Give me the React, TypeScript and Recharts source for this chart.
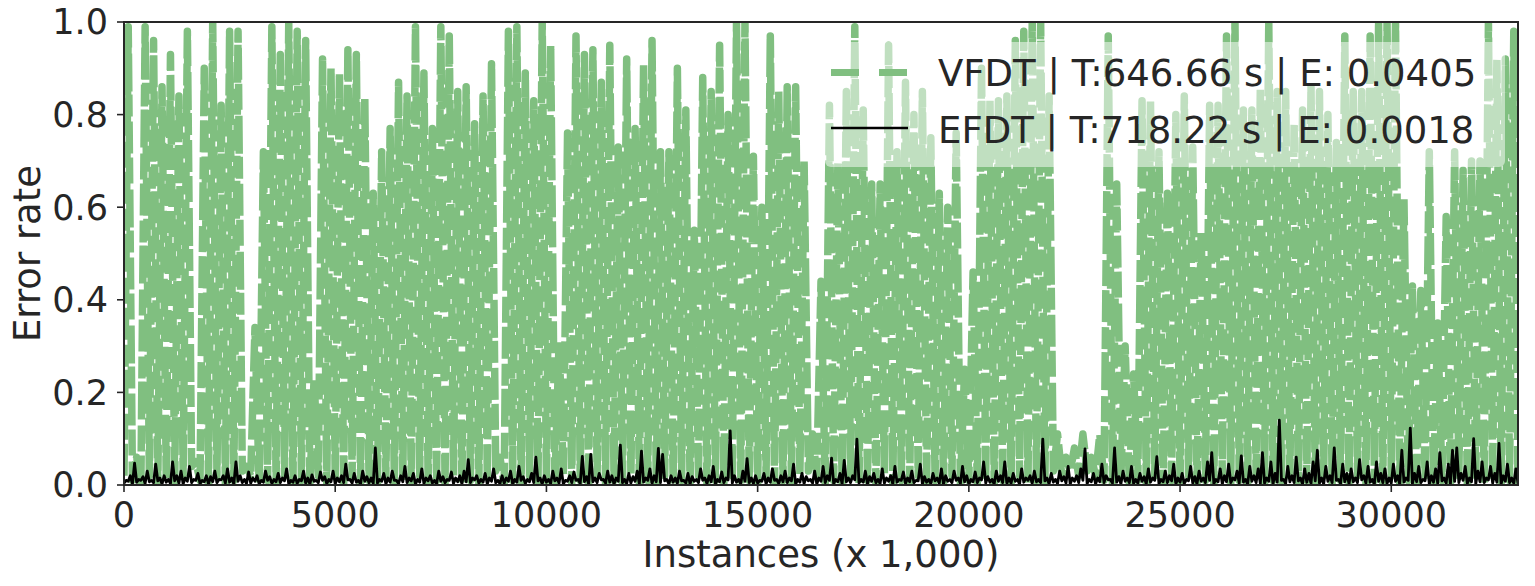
import { LineChart, Line, XAxis, YAxis } from "recharts"

// VFDT sampled every 100 (x 1,000) instances, EFDT every 50
const vfdtStep = 100
const efdtStep = 50
const xTicks = [0, 5000, 10000, 15000, 20000, 25000, 30000]
const yTicks = [0, 0.2, 0.4, 0.6, 0.8, 1.0]

const vfdt = [
  0.02, 0.99, 0.01, 0.06, 0, 0.99, 0.02, 0.96, 0, 0.86,
  0.01, 0.93, 0, 0.84, 0.02, 0.98, 0.04, 0.05, 0.01, 0.9,
  0, 1, 0.02, 0.82, 0, 0.98, 0.01, 0.98, 0.03, 0.04,
  0.02, 0.34, 0, 0.72, 0.01, 0.99, 0, 0.93, 0.02, 1,
  0, 0.98, 0.01, 0.96, 0, 0.23, 0.02, 0.92, 0, 0.9,
  0.01, 0.89, 0, 0.94, 0.02, 0.93, 0, 0.84, 0.01, 0.63,
  0, 0.72, 0.02, 0.77, 0, 0.87, 0.01, 0.84, 0, 0.99,
  0.02, 0.89, 0, 0.77, 0.01, 0.99, 0, 0.97, 0.02, 0.85,
  0, 0.86, 0.01, 0.78, 0, 0.84, 0.02, 0.91, 0.03, 0.06,
  0, 0.98, 0.01, 0.99, 0, 0.89, 0.02, 0.83, 0, 1,
  0.01, 0.95, 0, 0.31, 0.02, 0.76, 0, 0.97, 0.01, 0.93,
  0, 0.94, 0.02, 0.87, 0, 0.95, 0.01, 0.73, 0, 0.92,
  0.02, 0.77, 0, 0.91, 0.01, 0.96, 0, 0.72, 0.02, 0.72,
  0, 0.9, 0.01, 0.81, 0, 0.55, 0.02, 0.88, 0, 0.85,
  0.01, 0.95, 0, 0.8, 0.02, 1, 0, 1, 0.01, 0.71,
  0, 0.6, 0.02, 0.97, 0, 0.85, 0.01, 0.86, 0, 0.86,
  0.02, 0.7, 0.03, 0.11, 0.02, 0.44, 0, 0.82, 0.01, 0.7,
  0, 0.85, 0.02, 0.99, 0, 0.81, 0.01, 0.65, 0, 0.65,
  0.02, 0.95, 0, 0.72, 0.01, 0.87, 0, 0.8, 0.02, 0.85,
  0, 0.75, 0.01, 0.63, 0, 0.6, 0.02, 0.76, 0, 0.25,
  0.01, 0.46, 0, 0.9, 0.02, 0.83, 0, 0.83, 0.01, 0.84,
  0, 0.96, 0.02, 0.98, 0, 1, 0.01, 1, 0, 0.84,
  0.03, 0.11, 0.02, 0.06, 0.03, 0.08, 0.02, 0.11, 0.03, 0.06,
  0.02, 0.11, 0.01, 0.97, 0, 0.65, 0.02, 0.3, 0, 0.24,
  0.01, 0.83, 0, 0.83, 0.02, 0.72, 0, 0.63, 0.01, 0.8,
  0, 0.84, 0.02, 0.73, 0, 0.55, 0.01, 0.82, 0, 0.82,
  0.02, 0.97, 0, 1, 0.01, 0.81, 0, 0.81, 0.02, 0.86,
  0, 1, 0.01, 0.85, 0, 0.85, 0.02, 0.78, 0, 0.81,
  0.01, 0.86, 0, 0.85, 0.02, 0.8, 0, 0.74, 0.01, 0.97,
  0, 0.85, 0.02, 0.85, 0, 0.97, 0.01, 1, 0, 1,
  0.02, 1, 0, 0.62, 0.01, 0.43, 0, 0.42, 0.02, 0.72,
  0, 0.35, 0.01, 0.58, 0, 0.72, 0.02, 0.68, 0, 0.7,
  0.01, 0.7, 0, 1, 0.02, 0.92, 0, 0.92, 0.01, 0.98,
  0,
]

const efdt = [
  0.004, 0.01, 0.008, 0.02, 0.002, 0.047, 0.006, 0.012, 0.01, 0.018,
  0.003, 0.03, 0.007, 0.01, 0.005, 0.045, 0.009, 0.015, 0.002, 0.02,
  0.006, 0.012, 0.003, 0.05, 0.009, 0.02, 0.004, 0.03, 0.002, 0.015,
  0.008, 0.04, 0.005, 0.012, 0.01, 0.025, 0.003, 0.01, 0.007, 0.02,
  0.002, 0.018, 0.007, 0.03, 0.005, 0.012, 0.011, 0.02, 0.004, 0.035,
  0.006, 0.015, 0.002, 0.05, 0.008, 0.02, 0.005, 0.012, 0.003, 0.028,
  0.004, 0.015, 0.008, 0.02, 0.002, 0.01, 0.006, 0.03, 0.01, 0.018,
  0.003, 0.012, 0.007, 0.025, 0.005, 0.015, 0.009, 0.035, 0.002, 0.01,
  0.006, 0.02, 0.003, 0.012, 0.009, 0.03, 0.004, 0.015, 0.002, 0.022,
  0.008, 0.01, 0.005, 0.028, 0.01, 0.018, 0.003, 0.012, 0.007, 0.03,
  0.002, 0.015, 0.007, 0.02, 0.005, 0.045, 0.011, 0.012, 0.004, 0.025,
  0.006, 0.01, 0.002, 0.03, 0.008, 0.018, 0.005, 0.015, 0.003, 0.08,
  0.004, 0.012, 0.008, 0.025, 0.002, 0.015, 0.006, 0.03, 0.01, 0.01,
  0.003, 0.02, 0.007, 0.04, 0.005, 0.015, 0.009, 0.025, 0.002, 0.012,
  0.006, 0.035, 0.003, 0.015, 0.009, 0.02, 0.004, 0.01, 0.002, 0.03,
  0.008, 0.018, 0.005, 0.012, 0.01, 0.028, 0.003, 0.015, 0.007, 0.02,
  0.002, 0.03, 0.007, 0.055, 0.005, 0.015, 0.011, 0.02, 0.004, 0.012,
  0.006, 0.025, 0.002, 0.015, 0.008, 0.035, 0.005, 0.01, 0.003, 0.02,
  0.004, 0.015, 0.008, 0.03, 0.002, 0.012, 0.006, 0.04, 0.01, 0.018,
  0.003, 0.012, 0.007, 0.025, 0.005, 0.06, 0.009, 0.015, 0.002, 0.02,
  0.006, 0.012, 0.003, 0.03, 0.009, 0.015, 0.004, 0.035, 0.002, 0.01,
  0.008, 0.02, 0.005, 0.028, 0.01, 0.012, 0.003, 0.062, 0.007, 0.018,
  0.002, 0.066, 0.007, 0.015, 0.005, 0.025, 0.011, 0.012, 0.004, 0.03,
  0.006, 0.02, 0.002, 0.015, 0.008, 0.086, 0.005, 0.012, 0.003, 0.025,
  0.004, 0.018, 0.008, 0.03, 0.002, 0.073, 0.006, 0.015, 0.01, 0.035,
  0.003, 0.02, 0.007, 0.079, 0.005, 0.066, 0.009, 0.012, 0.002, 0.02,
  0.006, 0.015, 0.003, 0.03, 0.009, 0.01, 0.004, 0.025, 0.002, 0.018,
  0.008, 0.012, 0.005, 0.035, 0.01, 0.015, 0.003, 0.02, 0.007, 0.04,
  0.002, 0.012, 0.007, 0.028, 0.005, 0.015, 0.011, 0.117, 0.004, 0.02,
  0.006, 0.012, 0.002, 0.03, 0.008, 0.057, 0.005, 0.015, 0.003, 0.02,
  0.004, 0.01, 0.008, 0.025, 0.002, 0.015, 0.006, 0.035, 0.01, 0.012,
  0.003, 0.02, 0.007, 0.03, 0.005, 0.015, 0.009, 0.045, 0.002, 0.012,
  0.006, 0.025, 0.003, 0.018, 0.009, 0.012, 0.004, 0.03, 0.002, 0.015,
  0.008, 0.04, 0.005, 0.02, 0.01, 0.058, 0.003, 0.012, 0.007, 0.025,
  0.002, 0.053, 0.007, 0.015, 0.005, 0.02, 0.011, 0.099, 0.004, 0.012,
  0.006, 0.03, 0.002, 0.018, 0.008, 0.025, 0.005, 0.012, 0.003, 0.035,
  0.004, 0.015, 0.008, 0.02, 0.002, 0.04, 0.006, 0.012, 0.01, 0.028,
  0.003, 0.015, 0.007, 0.03, 0.005, 0.01, 0.009, 0.045, 0.002, 0.018,
  0.006, 0.012, 0.003, 0.025, 0.009, 0.015, 0.004, 0.035, 0.002, 0.02,
  0.008, 0.012, 0.005, 0.03, 0.01, 0.015, 0.003, 0.04, 0.007, 0.02,
  0.002, 0.012, 0.007, 0.028, 0.005, 0.015, 0.011, 0.05, 0.004, 0.018,
  0.006, 0.012, 0.002, 0.03, 0.008, 0.02, 0.005, 0.05, 0.003, 0.015,
  0.004, 0.025, 0.008, 0.012, 0.002, 0.035, 0.006, 0.015, 0.01, 0.02,
  0.003, 0.03, 0.007, 0.012, 0.005, 0.099, 0.009, 0.015, 0.002, 0.025,
  0.006, 0.012, 0.003, 0.03, 0.009, 0.018, 0.004, 0.04, 0.002, 0.015,
  0.008, 0.02, 0.005, 0.035, 0.01, 0.078, 0.003, 0.012, 0.007, 0.025,
  0.002, 0.015, 0.007, 0.045, 0.005, 0.02, 0.011, 0.012, 0.004, 0.08,
  0.006, 0.018, 0.002, 0.03, 0.008, 0.015, 0.005, 0.04, 0.003, 0.012,
  0.004, 0.025, 0.008, 0.018, 0.002, 0.035, 0.006, 0.015, 0.01, 0.061,
  0.003, 0.012, 0.007, 0.03, 0.005, 0.02, 0.009, 0.045, 0.002, 0.015,
  0.006, 0.025, 0.003, 0.012, 0.009, 0.04, 0.004, 0.018, 0.002, 0.03,
  0.008, 0.015, 0.005, 0.05, 0.01, 0.07, 0.003, 0.012, 0.007, 0.035,
  0.002, 0.02, 0.007, 0.045, 0.005, 0.015, 0.011, 0.03, 0.004, 0.063,
  0.006, 0.012, 0.002, 0.04, 0.008, 0.02, 0.005, 0.035, 0.003, 0.07,
  0.004, 0.015, 0.008, 0.05, 0.002, 0.025, 0.006, 0.14, 0.01, 0.012,
  0.003, 0.04, 0.007, 0.02, 0.005, 0.06, 0.009, 0.015, 0.002, 0.035,
  0.006, 0.025, 0.003, 0.05, 0.009, 0.075, 0.004, 0.015, 0.002, 0.04,
  0.008, 0.02, 0.005, 0.08, 0.01, 0.012, 0.003, 0.045, 0.007, 0.025,
  0.002, 0.035, 0.007, 0.015, 0.005, 0.055, 0.011, 0.02, 0.004, 0.04,
  0.006, 0.012, 0.002, 0.05, 0.008, 0.025, 0.005, 0.035, 0.003, 0.015,
  0.004, 0.045, 0.008, 0.02, 0.002, 0.075, 0.006, 0.015, 0.01, 0.123,
  0.003, 0.025, 0.007, 0.04, 0.005, 0.012, 0.009, 0.05, 0.002, 0.02,
  0.006, 0.035, 0.003, 0.07, 0.009, 0.015, 0.004, 0.045, 0.002, 0.075,
  0.008, 0.08, 0.005, 0.025, 0.01, 0.04, 0.003, 0.015, 0.007, 0.1,
  0.002, 0.03, 0.007, 0.05, 0.005, 0.015, 0.011, 0.04, 0.004, 0.025,
  0.006, 0.09, 0.002, 0.02, 0.008, 0.045, 0.005, 0.015, 0.003, 0.035,
  0.004, 0.02,
]

const legendRows = [
  { name: "VFDT", time: "646.66", err: "0.0405" },
  { name: "EFDT", time: "718.22", err: "0.0018" },
]

const vfdtData = vfdt.map((v, i) => ({ x: i * vfdtStep, vfdt: v }))
const efdtData = efdt.map((v, i) => ({ x: i * efdtStep, efdt: v }))

const ink = "#262626"
const green = "#80bf80"
const font = "'DejaVu Sans', sans-serif"

export default function App() {
  return (
    <div style={{ position: "absolute", left: 0, top: 0, width: 1535, height: 586, fontFamily: font, background: "#fff" }}>
      <LineChart width={1535} height={586} margin={{ top: 22, right: 17, bottom: 0, left: 0 }}>
        <XAxis
          dataKey="x"
          type="number"
          domain={[0, 33000]}
          ticks={xTicks}
          allowDataOverflow
          height={101}
          tickSize={7}
          tickMargin={10}
          stroke={ink}
          axisLine={{ stroke: ink, strokeWidth: 2 }}
          tickLine={{ stroke: ink, strokeWidth: 1.6 }}
          tick={{ fill: ink, fontSize: 35 }}
          label={{
            content: (p: any) => {
              const vb = p.viewBox || { x: 124, y: 485, width: 1394 }
              return (
                <text x={vb.x + vb.width / 2} y={vb.y + 82} textAnchor="middle" fill={ink} fontSize={37}>
                  Instances (x 1,000)
                </text>
              )
            },
          }}
        />
        <YAxis
          type="number"
          domain={[0, 1]}
          ticks={yTicks}
          allowDataOverflow
          width={124}
          tickSize={7}
          tickMargin={9}
          tickFormatter={(v: number) => v.toFixed(1)}
          axisLine={{ stroke: ink, strokeWidth: 2 }}
          tickLine={{ stroke: ink, strokeWidth: 1.6 }}
          tick={{ fill: ink, fontSize: 35 }}
          label={{
            content: (p: any) => {
              const vb = p.viewBox || { x: 0, y: 22, height: 463 }
              const cx = vb.x + 40
              const cy = vb.y + vb.height / 2
              return (
                <text x={cx} y={cy} textAnchor="middle" fill={ink} fontSize={37} transform={`rotate(-90, ${cx}, ${cy})`}>
                  Error rate
                </text>
              )
            },
          }}
        />
        <Line
          data={vfdtData}
          type="linear"
          dataKey="vfdt"
          stroke={green}
          strokeWidth={7.5}
          strokeDasharray="32 4 26 6 38 3 22 5"
          strokeLinejoin="round"
          dot={false}
          activeDot={false}
          isAnimationActive={false}
        />
        <Line
          data={efdtData}
          type="linear"
          dataKey="efdt"
          stroke="#000"
          strokeWidth={2.8}
          strokeLinejoin="round"
          dot={false}
          activeDot={false}
          isAnimationActive={false}
        />
      </LineChart>
      {/* full frame: top and right spines */}
      <div
        style={{
          position: "absolute",
          left: 123,
          top: 21,
          width: 1396,
          height: 465,
          border: `2px solid ${ink}`,
          boxSizing: "border-box",
          pointerEvents: "none",
        }}
      />
      <div
        style={{
          position: "absolute",
          left: 825,
          top: 42,
          width: 680,
          height: 125,
          background: "rgba(255,255,255,0.5)",
          borderRadius: 6,
        }}
      >
        <svg width={680} height={125}>
          <line x1={6} x2={83} y1={30.5} y2={30.5} stroke={green} strokeWidth={7} strokeDasharray="28 20" />
          <line x1={6} x2={83} y1={86} y2={86} stroke="#000" strokeWidth={2.5} />
          {legendRows.map((r, i) => (
            <text key={r.name} x={113} y={44 + i * 57} fill={ink} fontSize={37}>
              {`${r.name} | T:${r.time} s | E: ${r.err}`}
            </text>
          ))}
        </svg>
      </div>
    </div>
  )
}
